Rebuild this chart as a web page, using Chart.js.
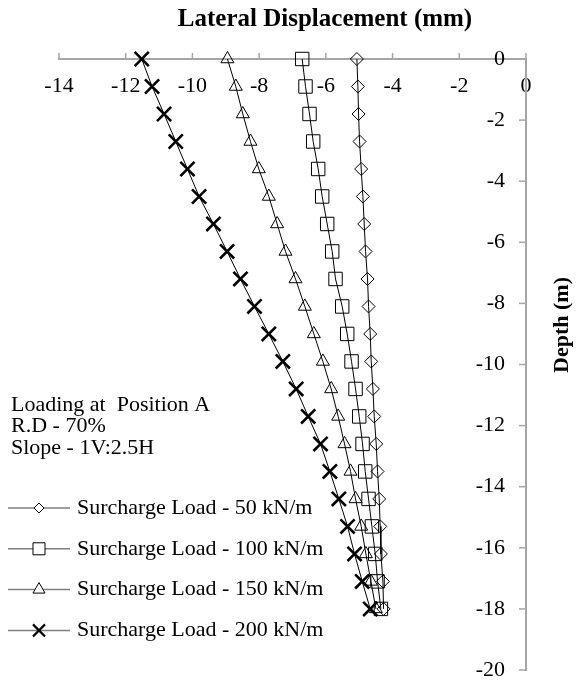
<!DOCTYPE html>
<html>
<head>
<meta charset="utf-8">
<script src="https://cdn.jsdelivr.net/npm/chart.js@4.4.1/dist/chart.umd.min.js"></script>
<style>
html,body{margin:0;padding:0;background:#fff;overflow:hidden}
#wrap{width:579px;height:683px;position:relative}
</style>
</head>
<body>
<div id="wrap"><canvas id="c" width="579" height="683"></canvas></div>
<script>
// ---- data ----
const depths  = [0,-0.9,-1.8,-2.7,-3.6,-4.5,-5.4,-6.3,-7.2,-8.1,-9,-9.9,-10.8,-11.7,-12.6,-13.5,-14.4,-15.3,-16.2,-17.1,-18];
const disp50  = [-5.07,-5.04,-5.02,-4.99,-4.94,-4.89,-4.85,-4.81,-4.75,-4.72,-4.67,-4.64,-4.59,-4.55,-4.49,-4.45,-4.40,-4.37,-4.35,-4.29,-4.27];
const disp100 = [-6.71,-6.61,-6.49,-6.38,-6.23,-6.11,-5.96,-5.81,-5.71,-5.51,-5.36,-5.23,-5.11,-5.00,-4.90,-4.82,-4.72,-4.62,-4.52,-4.45,-4.35];
const disp150 = [-8.95,-8.70,-8.49,-8.26,-8.01,-7.71,-7.46,-7.21,-6.91,-6.63,-6.36,-6.09,-5.84,-5.63,-5.44,-5.26,-5.11,-4.94,-4.80,-4.65,-4.50];
const disp200 = [-11.52,-11.21,-10.85,-10.50,-10.15,-9.80,-9.37,-8.96,-8.56,-8.14,-7.71,-7.29,-6.89,-6.53,-6.16,-5.88,-5.61,-5.35,-5.14,-4.91,-4.67];
const seriesLabels = ['Surcharge Load - 50 kN/m','Surcharge Load - 100 kN/m','Surcharge Load - 150 kN/m','Surcharge Load - 200 kN/m'];
const xTickValues = [-14,-12,-10,-8,-6,-4,-2,0];
const yTickValues = [0,-2,-4,-6,-8,-10,-12,-14,-16,-18,-20];
const xTitle = 'Lateral Displacement (mm)';
const yTitle = 'Depth (m)';
const noteLines = ['Loading at  Position A','R.D - 70%','Slope - 1V:2.5H'];

const FONT = '"Liberation Serif","Times New Roman",serif';
const AXIS_GRAY = '#a6a6a6';

function pts(xs){ return xs.map((x,i)=>({x:x, y:depths[i]})); }

const styles = [
  {pointStyle:'rectRot',  pointRadius:6.5, pointBorderWidth:1},
  {pointStyle:'rect',     pointRadius:9.5, pointBorderWidth:1},
  {pointStyle:'triangle', pointRadius:7.5, pointBorderWidth:1},
  {pointStyle:'crossRot', pointRadius:10,  pointBorderWidth:2.6}
];
const legendRadius = [5, 8.5, 7, 8.5];
const legendWidth = [1, 1, 1, 2.2];
const allSeries = [disp50, disp100, disp150, disp200];

const datasets = allSeries.map((s,i)=>Object.assign({
  label: seriesLabels[i],
  data: pts(s),
  showLine: true,
  borderColor: '#000',
  borderWidth: 1,
  pointBackgroundColor: 'rgba(255,255,255,0)',
  pointBorderColor: '#000',
  clip: false,
  tension: 0
}, styles[i]));

const decor = {
  id: 'decor',
  afterDraw(chart){
    const ctx = chart.ctx;
    const xs = chart.scales.x, ys = chart.scales.y;
    ctx.save();
    // tick marks: upward on the top axis, leftward on the right axis
    const y0 = ys.getPixelForValue(0);
    const x0 = xs.getPixelForValue(0);
    ctx.strokeStyle = AXIS_GRAY; ctx.lineWidth = 1.5;
    xTickValues.forEach(v=>{
      const px = xs.getPixelForValue(v);
      ctx.beginPath(); ctx.moveTo(px, y0 - 6); ctx.lineTo(px, y0); ctx.stroke();
    });
    yTickValues.forEach(v=>{
      const py = ys.getPixelForValue(v);
      ctx.beginPath(); ctx.moveTo(x0 - 7, py); ctx.lineTo(x0, py); ctx.stroke();
    });
    // titles
    ctx.fillStyle = '#000';
    ctx.textAlign = 'center'; ctx.textBaseline = 'middle';
    ctx.font = 'bold 25px ' + FONT;
    ctx.fillText(xTitle, 325, 20);
    ctx.font = 'bold 22px ' + FONT;
    ctx.save();
    ctx.translate(562, 325); ctx.rotate(-Math.PI/2);
    ctx.fillText(yTitle, 0, 0);
    ctx.restore();
    // note text
    ctx.font = '22px ' + FONT;
    ctx.textAlign = 'left';
    noteLines.forEach((t,i)=> ctx.fillText(t, 11, 405 + i*21.5));
    // legend
    chart.data.datasets.forEach((ds,i)=>{
      const ly = 508 + i*40.8;
      ctx.strokeStyle = '#7f7f7f'; ctx.lineWidth = 1.5;
      ctx.beginPath(); ctx.moveTo(8, ly); ctx.lineTo(70, ly); ctx.stroke();
      ctx.fillStyle = '#fff';
      ctx.strokeStyle = '#000';
      ctx.lineWidth = legendWidth[i];
      Chart.helpers.drawPoint(ctx, {
        pointStyle: ds.pointStyle, radius: legendRadius[i], rotation: 0,
        borderWidth: legendWidth[i]
      }, 39, ly);
      ctx.fillStyle = '#000';
      ctx.fillText(ds.label, 77, ly);
    });
    ctx.restore();
  }
};

new Chart(document.getElementById('c'), {
  type: 'scatter',
  data: { datasets },
  options: {
    responsive: false,
    animation: false,
    layout: { padding: { left: 59, top: 59, right: 53, bottom: 13 } },
    plugins: { legend: {display:false}, title: {display:false}, tooltip: {enabled:false} },
    elements: { point: { hoverRadius: 6 } },
    scales: {
      x: {
        type: 'linear', min: -14, max: 0,
        position: { y: 0 },
        afterBuildTicks: (s)=>{ s.ticks = xTickValues.map(v=>({value:v})); },
        afterFit: (s)=>{ s.height = 0; },
        ticks: { color:'#000', font:{family:FONT, size:22}, padding: 14, autoSkip:false, maxRotation:0 },
        grid: { display:true, drawOnChartArea:false, drawTicks:false, color: AXIS_GRAY },
        border: { display:true, color: AXIS_GRAY, width: 2 }
      },
      y: {
        type: 'linear', min: -20, max: 0,
        position: 'right',
        afterBuildTicks: (s)=>{ s.ticks = yTickValues.map(v=>({value:v})); },
        afterFit: (s)=>{ s.width = 0; },
        ticks: { color:'#000', font:{family:FONT, size:22}, padding: -21, mirror: true, autoSkip:false },
        grid: { display:true, drawOnChartArea:false, drawTicks:false, color: AXIS_GRAY },
        border: { display:true, color: AXIS_GRAY, width: 2 }
      }
    }
  },
  plugins: [decor]
});
</script>
</body>
</html>
